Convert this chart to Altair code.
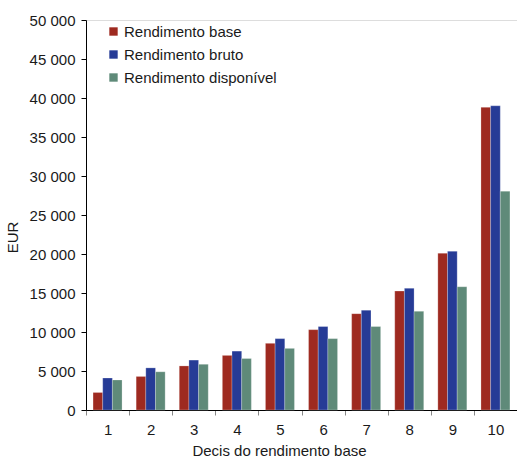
import altair as alt
import pandas as pd

deciles = ["1", "2", "3", "4", "5", "6", "7", "8", "9", "10"]
series = ["Rendimento base", "Rendimento bruto", "Rendimento disponível"]
base = [2250, 4300, 5650, 7000, 8550, 10300, 12350, 15250, 20100, 38800]
bruto = [4100, 5400, 6400, 7550, 9150, 10700, 12800, 15600, 20350, 39000]
disponivel = [3850, 4900, 5850, 6600, 7900, 9150, 10700, 12650, 15800, 28050]
colors = ["#9E2A20", "#263B96", "#5F8A79"]

rows = []
for i, d in enumerate(deciles):
    for s, vals in zip(series, [base, bruto, disponivel]):
        rows.append({"decil": d, "serie": s, "valor": vals[i]})
df = pd.DataFrame(rows)

FONT = "Liberation Sans"

chart = alt.Chart(df).mark_bar(stroke="white", strokeWidth=0.4, strokeOpacity=0.6).encode(
    x=alt.X("decil:N", sort=deciles,
            scale=alt.Scale(paddingInner=0, paddingOuter=0),
            axis=alt.Axis(title="Decis do rendimento base", labelAngle=0,
                          tickBand="extent", domainColor="#000", tickColor="#888",
                          tickSize=5, labelFontSize=15, labelColor="#1a1a1a",
                          labelPadding=7, titleFontSize=15, titleFontWeight="normal",
                          titleColor="#1a1a1a", titlePadding=6, titleX=193)),
    xOffset=alt.XOffset("serie:N", sort=series,
                        scale=alt.Scale(paddingInner=0, paddingOuter=0.73)),
    y=alt.Y("valor:Q", scale=alt.Scale(domain=[0, 50000], nice=False),
            axis=alt.Axis(title="EUR", values=list(range(0, 50001, 5000)),
                          labelExpr="replace(format(datum.value, ','), ',', ' ')",
                          grid=False, domainColor="#000", tickColor="#000",
                          tickSize=5, labelFontSize=15, labelColor="#1a1a1a",
                          labelPadding=6, titleFontSize=15, titleFontWeight="normal",
                          titleColor="#1a1a1a", titlePadding=9, titleY=217)),
    color=alt.Color("serie:N", sort=series,
                    scale=alt.Scale(domain=series, range=colors),
                    legend=alt.Legend(title=None, orient="none", legendX=20, legendY=4,
                                      symbolType="square", symbolSize=70,
                                      symbolStrokeWidth=0, labelFontSize=15,
                                      labelColor="#1a1a1a", rowPadding=7, labelOffset=3)),
).properties(
    width=431, height=390,
    padding={"left": 86, "top": 20, "right": 0, "bottom": 48},
    autosize=alt.AutoSizeParams(type="none"),
).configure_view(stroke=None).configure(font=FONT)

chart.save("out.html", embed_options={"renderer": "svg", "actions": False})
